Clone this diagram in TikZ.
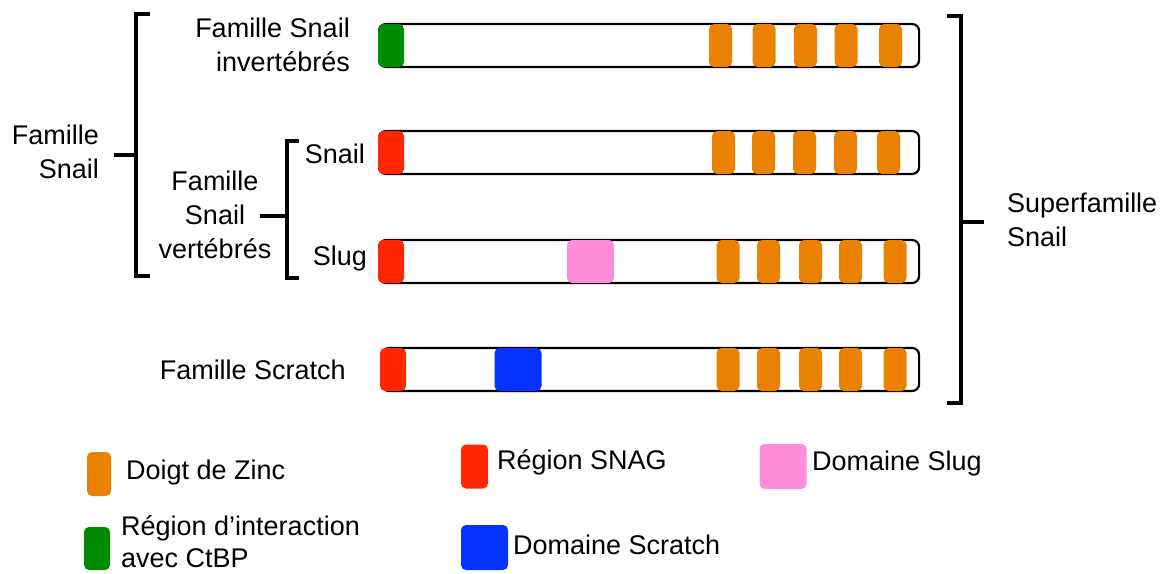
\documentclass[tikz,border=0pt]{standalone}
\usepackage{fontspec}
\setmainfont{Liberation Sans}
\tikzset{
  x=1pt, y=-1pt,
  every node/.style={font=\fontsize{27}{34}\selectfont, inner sep=0pt},
  bar/.style={draw, line width=2.2pt, rounded corners=7pt, fill=white,
    minimum width=540pt, minimum height=43pt, anchor=west},
  blk/.style={rounded corners=5pt, minimum height=43pt},
  zinc/.style={blk, fill=zincor, minimum width=23pt},
  snag/.style={blk, fill=snagred, minimum width=26pt},
  ctbp/.style={blk, fill=ctbpgreen, minimum width=26pt},
  slugdom/.style={blk, fill=slugpink, minimum width=47pt},
  scrdom/.style={blk, fill=scrblue, minimum width=47pt},
  brk/.style={line width=4pt},
}
\definecolor{zincor}{RGB}{234,130,0}
\definecolor{snagred}{RGB}{255,38,0}
\definecolor{ctbpgreen}{RGB}{0,140,0}
\definecolor{slugpink}{RGB}{255,140,216}
\definecolor{scrblue}{RGB}{4,51,255}

\begin{document}
\begin{tikzpicture}
  \useasboundingbox (0,0) rectangle (1169,573);
  % proteines
  \node[bar] (inv) at (378,45.5) {};
  \node[ctbp] (inv1) at (391,45.5) {};
  \foreach \x [count=\i] in {720.5,764,805.5,846,890.5}
    \node[zinc] (invz\i) at (\x,45.5) {};

  \node[bar] (snail) at (378,152.5) {};
  \node[snag] (snail1) at (391,152.5) {};
  \foreach \x [count=\i] in {723.5,763.5,804.5,845.5,888.5}
    \node[zinc] (snailz\i) at (\x,152.5) {};

  \node[bar] (slug) at (378,261.5) {};
  \node[snag] (slug1) at (391,261.5) {};
  \node[slugdom] (slug2) at (590.5,261.5) {};
  \foreach \x [count=\i] in {728,768.5,810.5,850.5,895}
    \node[zinc] (slugz\i) at (\x,261.5) {};

  \node[bar, minimum width=537pt] (scr) at (381,369.5) {};
  \node[snag] (scr1) at (393,369.5) {};
  \node[scrdom] (scr2) at (518,369.5) {};
  \foreach \x [count=\i] in {728,768.5,810.5,850.5,895}
    \node[zinc] (scrz\i) at (\x,369.5) {};

  % noms
  \node[anchor=east, align=right] (tinv) at (350,45) {Famille Snail\\invertébrés};
  \node[anchor=east] (tsnail) at (365,154) {Snail};
  \node[anchor=east] (tslug) at (367,259) {Slug};
  \node[anchor=east] (tscr) at (346,370) {Famille Scratch};
  \node[align=center] (tvert) at (215,215) {Famille\\Snail\\vertébrés};
  \node[anchor=east, align=right] (tfam) at (99,152) {Famille\\Snail};
  \node[anchor=west, align=left] (tsup) at (1007,220) {Superfamille\\Snail};

  % accolades
  \draw[brk] (150,14) -- (136,14) -- (136,276) -- (150,276);
  \draw[brk] (114,155) -- (136,155);
  \draw[brk] (299,141) -- (287,141) -- (287,278) -- (299,278);
  \draw[brk] (260,216) -- (287,216);
  \draw[brk] (947,16) -- (961,16) -- (961,403) -- (947,403);
  \draw[brk] (961,222) -- (984,222);

  % legende
  \node[zinc, minimum width=24pt, minimum height=44pt] (lzinc) at (99,474) {};
  \node[anchor=west] (tzinc) at (126,473) {Doigt de Zinc};
  \node[ctbp, minimum width=26pt] (lctbp) at (97,548.5) {};
  \node[anchor=west, align=left, font=\fontsize{27}{32}\selectfont] (tctbp) at (121,542) {Région d’interaction\\avec CtBP};
  \node[snag, minimum width=27pt, minimum height=44pt] (lsnag) at (474.5,466.5) {};
  \node[anchor=west] (tsnag) at (497,462) {Région SNAG};
  \node[scrdom, minimum height=45pt] (lscr) at (484.5,547.5) {};
  \node[anchor=west] (tscrd) at (513,545) {Domaine Scratch};
  \node[slugdom, minimum height=45pt] (lslug) at (783,466.5) {};
  \node[anchor=west] (tslugd) at (812,464) {Domaine Slug};
\end{tikzpicture}
\end{document}
